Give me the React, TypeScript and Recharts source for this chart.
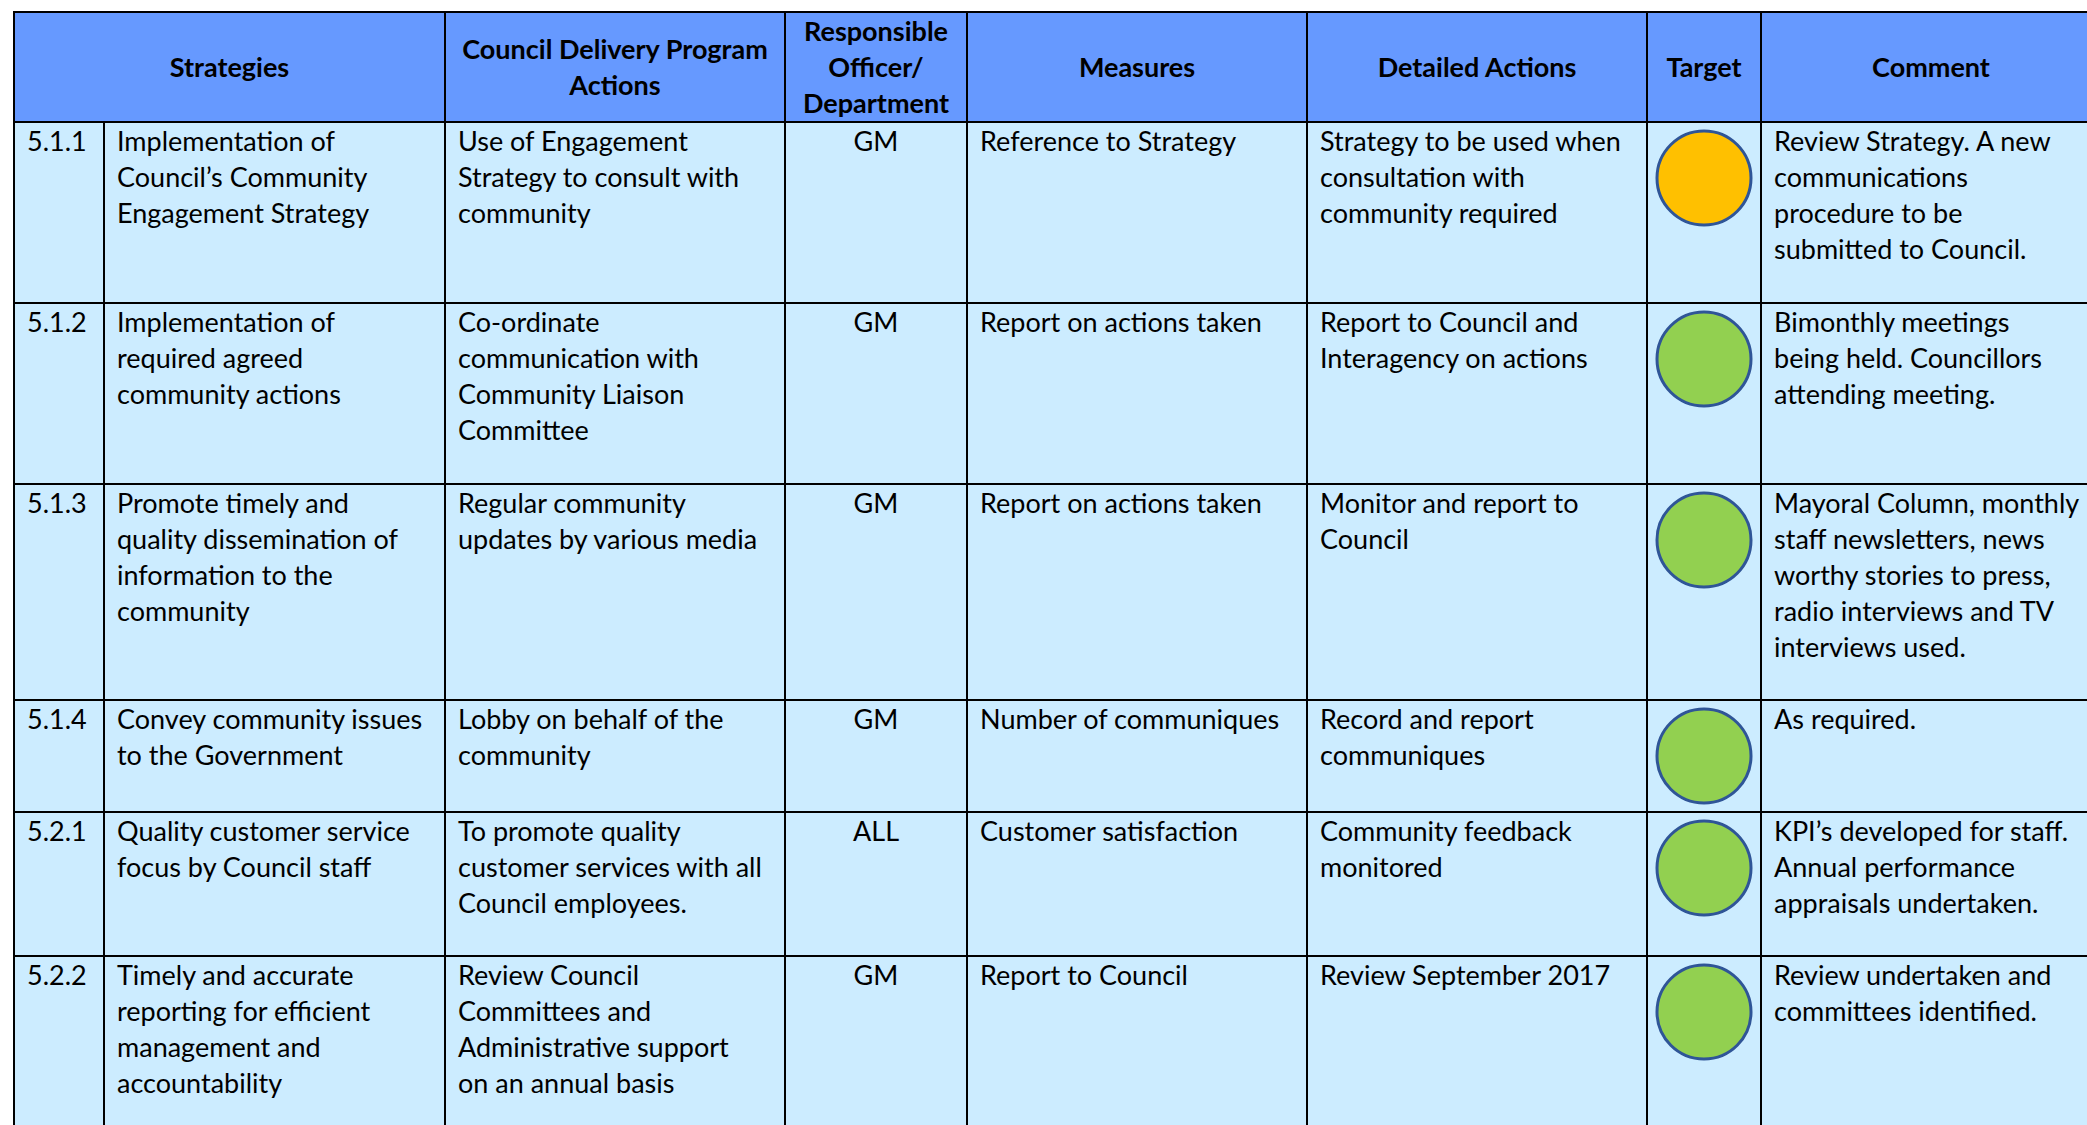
import { Scatter, ScatterChart, XAxis, YAxis } from "recharts";

// column headings (line breaks as in the report)
const headers = [
  "Strategies",
  "Council Delivery Program\nActions",
  "Responsible\nOfficer/\nDepartment",
  "Measures",
  "Detailed Actions",
  "Target",
  "Comment",
];

const codes = ["5.1.1", "5.1.2", "5.1.3", "5.1.4", "5.2.1", "5.2.2"];

const strategies = [
  "Implementation of\nCouncil’s Community\nEngagement Strategy",
  "Implementation of\nrequired agreed\ncommunity actions",
  "Promote timely and\nquality dissemination of\ninformation to the\ncommunity",
  "Convey community issues\nto the Government",
  "Quality customer service\nfocus by Council staff",
  "Timely and accurate\nreporting for efficient\nmanagement and\naccountability",
];

const programActions = [
  "Use of Engagement\nStrategy to consult with\ncommunity",
  "Co-ordinate\ncommunication with\nCommunity Liaison\nCommittee",
  "Regular community\nupdates by various media",
  "Lobby on behalf of the\ncommunity",
  "To promote quality\ncustomer services with all\nCouncil employees.",
  "Review Council\nCommittees and\nAdministrative support\non an annual basis",
];

const officers = ["GM", "GM", "GM", "GM", "ALL", "GM"];

const measures = [
  "Reference to Strategy",
  "Report on actions taken",
  "Report on actions taken",
  "Number of communiques",
  "Customer satisfaction",
  "Report to Council",
];

const detailedActions = [
  "Strategy to be used when\nconsultation with\ncommunity required",
  "Report to Council and\nInteragency on actions",
  "Monitor and report to\nCouncil",
  "Record and report\ncommuniques",
  "Community feedback\nmonitored",
  "Review September 2017",
];

const targets = ["amber", "green", "green", "green", "green", "green"];

const comments = [
  "Review Strategy. A new\ncommunications\nprocedure to be\nsubmitted to Council.",
  "Bimonthly meetings\nbeing held. Councillors\nattending meeting.",
  "Mayoral Column, monthly\nstaff newsletters, news\nworthy stories to press,\nradio interviews and TV\ninterviews used.",
  "As required.",
  "KPI’s developed for staff.\nAnnual performance\nappraisals undertaken.",
  "Review undertaken and\ncommittees identified.",
];

const TARGET_COLORS: Record<string, string> = {
  amber: "#FFC000",
  green: "#92D050",
};

// layout
const COL_WIDTHS = [90, 341, 340, 182, 340, 340, 114, 340];
const HEADER_HEIGHT = 108;
const ROW_HEIGHTS = [181, 181, 216, 109, 144, 200];
const BORDER = "2px solid #000";
const FONT = "Lato, 'Noto Sans', sans-serif";
const DOT_RADIUS = 47;

// the traffic-light dot, placed by the chart's own category scales
function TargetDot({ code, status }: { code: string; status: string }) {
  const data = [{ code, status }];
  return (
    <ScatterChart width={112} height={110} margin={{ top: 0, right: 0, bottom: 0, left: 0 }}>
      <XAxis type="category" dataKey="code" hide />
      <YAxis type="category" dataKey="status" hide />
      <Scatter
        data={data}
        isAnimationActive={false}
        shape={(p: any) => (
          <circle
            cx={p.cx}
            cy={p.cy}
            r={DOT_RADIUS}
            fill={TARGET_COLORS[status]}
            stroke="#2F5597"
            strokeWidth={3}
          />
        )}
      />
    </ScatterChart>
  );
}

const cellStyle: React.CSSProperties = {
  border: BORDER,
  verticalAlign: "top",
  padding: "0 12px",
  whiteSpace: "pre",
  overflow: "hidden",
};

export default function App() {
  return (
    <div
      style={{
        position: "fixed",
        left: 0,
        top: 0,
        width: 2087,
        height: 1125,
        overflow: "hidden",
        background: "#fff",
      }}
    >
      <table
        style={{
          position: "absolute",
          left: 13,
          top: 11,
          width: COL_WIDTHS.reduce((a, b) => a + b, 0),
          tableLayout: "fixed",
          borderCollapse: "collapse",
          fontFamily: FONT,
          fontSize: 27,
          lineHeight: "36px",
          color: "#000",
        }}
      >
        <colgroup>
          {COL_WIDTHS.map((w, i) => (
            <col key={i} style={{ width: w }} />
          ))}
        </colgroup>
        <thead>
          <tr style={{ height: HEADER_HEIGHT, background: "#6699FF" }}>
            {headers.map((h, i) => (
              <th
                key={h}
                colSpan={i === 0 ? 2 : 1}
                style={{
                  border: BORDER,
                  padding: "0 4px",
                  textAlign: "center",
                  verticalAlign: "middle",
                  fontWeight: 700,
                  whiteSpace: "pre",
                }}
              >
                {h}
              </th>
            ))}
          </tr>
        </thead>
        <tbody>
          {codes.map((code, r) => (
            <tr key={code} style={{ height: ROW_HEIGHTS[r], background: "#CCECFF" }}>
              <td style={cellStyle}>{code}</td>
              <td style={cellStyle}>{strategies[r]}</td>
              <td style={cellStyle}>{programActions[r]}</td>
              <td style={{ ...cellStyle, textAlign: "center" }}>{officers[r]}</td>
              <td style={cellStyle}>{measures[r]}</td>
              <td style={cellStyle}>{detailedActions[r]}</td>
              <td style={{ ...cellStyle, padding: 0 }}>
                <TargetDot code={code} status={targets[r]} />
              </td>
              <td style={cellStyle}>{comments[r]}</td>
            </tr>
          ))}
        </tbody>
      </table>
    </div>
  );
}
